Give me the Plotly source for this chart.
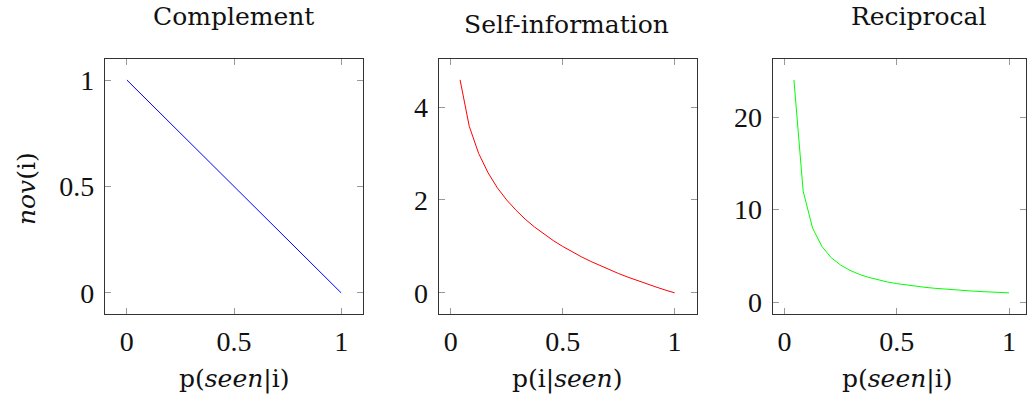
import plotly.graph_objects as go

# Complement
comp_x = [0.0, 1.0]
comp_y = [1.0, 0.0]

p_vals = [0.042, 0.083, 0.125, 0.167, 0.208, 0.25, 0.292, 0.333, 0.375, 0.417,
          0.458, 0.5, 0.542, 0.583, 0.625, 0.667, 0.708, 0.75, 0.792, 0.833,
          0.875, 0.917, 0.958, 1.0]
selfinfo_y = [4.585, 3.585, 3.0, 2.585, 2.263, 2.0, 1.778, 1.585, 1.415, 1.263,
              1.126, 1.0, 0.885, 0.778, 0.678, 0.585, 0.497, 0.415, 0.337, 0.263,
              0.193, 0.126, 0.061, 0.0]
recip_y = [24.0, 12.0, 8.0, 6.0, 4.8, 4.0, 3.43, 3.0, 2.67, 2.4,
           2.18, 2.0, 1.85, 1.71, 1.6, 1.5, 1.41, 1.33, 1.26, 1.2,
           1.14, 1.09, 1.04, 1.0]

titles = ["Complement", "Self-information", "Reciprocal"]
xlabels = ["p(<i>seen</i>|i)", "p(i|<i>seen</i>)", "p(<i>seen</i>|i)"]
ylabel = "<i>nov</i>(i)"
x_ticks = [0, 0.5, 1]
x_ticktext = ["0", "0.5", "1"]
y_ticks = [[0, 0.5, 1], [0, 2, 4], [0, 10, 20]]
y_ticktext = [["0", "0.5", "1"], ["0", "2", "4"], ["0", "10", "20"]]

W, H = 1027, 403
TICKFONT = "Liberation Serif"
TEXTFONT = "DejaVu Serif"

fig = go.Figure()
fig.add_trace(go.Scatter(x=comp_x, y=comp_y, mode="lines",
                         line=dict(color="#0000ff", width=1), xaxis="x", yaxis="y"))
fig.add_trace(go.Scatter(x=p_vals, y=selfinfo_y, mode="lines",
                         line=dict(color="#ff0000", width=1), xaxis="x2", yaxis="y2"))
fig.add_trace(go.Scatter(x=p_vals, y=recip_y, mode="lines",
                         line=dict(color="#00ff00", width=1), xaxis="x3", yaxis="y3"))

# panel boxes in pixels
boxes = [(105, 363.3), (439, 697.7), (773.3, 1027)]
top_px, bot_px = 59.3, 317.3
xranges = [[-0.1025, 1.1016], [-0.054, 1.1], [-0.0533, 1.0756]]
yranges = [[-0.1, 1.1], [-0.4585, 5.04], [-1.3, 26.3]]

ydom = [(H - bot_px) / H, (H - top_px) / H]
axis_common = dict(showgrid=False, zeroline=False, showline=True, linecolor="#333333",
                   linewidth=1, mirror="ticks", ticks="inside", ticklen=6,
                   tickcolor="#999999", tickwidth=1,
                   tickfont=dict(family=TICKFONT, size=28, color="#111111"))

layout = dict(width=W, height=H, margin=dict(l=0, r=0, t=0, b=0),
              paper_bgcolor="white", plot_bgcolor="white", showlegend=False)
for i in range(3):
    sfx = "" if i == 0 else str(i + 1)
    x0, x1 = boxes[i]
    layout["xaxis" + sfx] = dict(axis_common, domain=[x0 / W, min(x1 / W, 1.0)],
                                 range=xranges[i], tickvals=x_ticks, ticktext=x_ticktext,
                                 anchor="y" + sfx, ticklabelstandoff=2)
    layout["yaxis" + sfx] = dict(axis_common, domain=ydom, range=yranges[i],
                                 tickvals=y_ticks[i], ticktext=y_ticktext[i],
                                 anchor="x" + sfx, ticklabelstandoff=4)

fig.update_layout(**layout)

title_pos = [(234, 17), (567, 25), (920, 17)]
ann = []
for i in range(3):
    ann.append(dict(text=titles[i], x=title_pos[i][0] / W, y=1 - title_pos[i][1] / H,
                    xref="paper", yref="paper", showarrow=False, xanchor="center",
                    yanchor="middle", font=dict(family=TEXTFONT, size=25, color="#111111")))
xlabel_cx = [234, 568, 898]
for i in range(3):
    ann.append(dict(text=xlabels[i], x=xlabel_cx[i] / W, y=1 - 383 / H,
                    xref="paper", yref="paper", showarrow=False, xanchor="center",
                    yanchor="middle", font=dict(family=TEXTFONT, size=25, color="#111111")))
ann.append(dict(text=ylabel, x=26 / W, y=1 - 190 / H, xref="paper", yref="paper",
                showarrow=False, xanchor="center", yanchor="middle", textangle=-90,
                font=dict(family=TEXTFONT, size=25, color="#111111")))
fig.update_layout(annotations=ann)

fig.write_html("out.html")
